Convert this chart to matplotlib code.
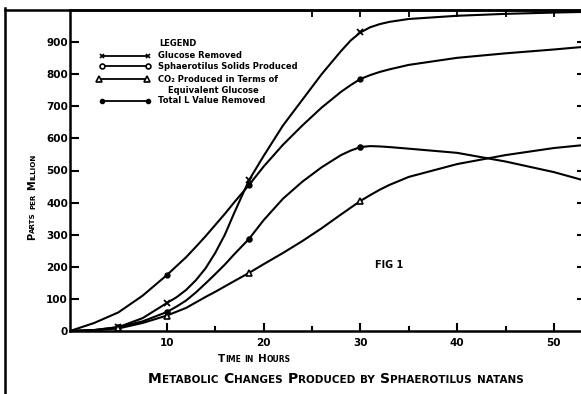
import matplotlib
matplotlib.use('Agg')
import matplotlib.pyplot as plt
from matplotlib.lines import Line2D

# ---------------- data ----------------
t_curve = [0, 2.5, 5, 7.5, 10, 11, 12, 13, 14, 15, 16, 17, 18.5, 20, 22, 24, 26, 28,
           29, 30, 31, 32, 33, 35, 40, 45, 50, 53]
glucose_curve = [0, 3, 12, 40, 87, 105, 128, 158, 195, 243, 300, 370, 470, 545, 640,
                 720, 800, 872, 905, 930, 946, 956, 963, 972, 982, 988, 992, 994]
lvalue_curve = [0, 25, 58, 110, 174, 202, 230, 262, 295, 330, 365, 402, 455, 512, 580,
                640, 696, 745, 766, 785, 797, 807, 815, 829, 851, 865, 877, 885]
solids_curve = [0, 3, 12, 30, 59, 76, 95, 120, 148, 177, 207, 240, 287, 345, 412,
                465, 510, 548, 562, 573, 576, 575, 573, 568, 555, 528, 495, 470]
co2_curve = [0, 2, 8, 25, 48, 60, 72, 89, 106, 122, 139, 156, 181, 208, 243,
             280, 320, 363, 384, 405, 423, 440, 455, 480, 520, 548, 570, 579]

t_obs = [5, 10, 18.5, 30]
glucose_obs = [12, 87, 470, 930]
solids_obs = [12, 59, 287, 573]
co2_obs = [8, 48, 181, 405]
t_obs_l = [10, 18.5, 30]
lvalue_obs = [174, 455, 785]

y_ticks = [0, 100, 200, 300, 400, 500, 600, 700, 800, 900]
x_major = [10, 20, 30, 40, 50]
x_minor = [5, 15, 25, 35, 45]
top_ticks = [25, 30, 35, 40, 45, 50]

legend_labels = ["Glucose Removed", "Sphaerotilus Solids Produced",
                 "CO\u2082 Produced in Terms of", "Equivalent Glucose",
                 "Total L Value Removed"]

# ---------------- figure ----------------
W, H = 581, 394
fig = plt.figure(figsize=(W / 100, H / 100), dpi=100)
fig.patch.set_facecolor('white')
renderer = fig.canvas.get_renderer()


def P(x, y):
    return (x / W, 1 - y / H)


ax = fig.add_axes([70 / W, (H - 331) / H, (W - 70) / W, (331 - 10) / H])
ax.set_xlim(0, 52.8)
ax.set_ylim(0, 1000)

lw = 1.5
ax.plot(t_curve, glucose_curve, color='black', lw=lw)
ax.plot(t_curve, lvalue_curve, color='black', lw=lw)
ax.plot(t_curve, solids_curve, color='black', lw=lw)
ax.plot(t_curve, co2_curve, color='black', lw=lw)

ax.plot(t_obs, glucose_obs, ls='none', marker='x', ms=4, mew=1.3, color='black')
ax.plot(t_obs, solids_obs, ls='none', marker='o', ms=3.5, mew=1.2, mfc='black', color='black')
ax.plot(t_obs, co2_obs, ls='none', marker='^', ms=4.5, mew=1.2, mfc='white', color='black')
ax.plot(t_obs_l, lvalue_obs, ls='none', marker='o', ms=3.5, mfc='black', color='black')

for s in ['left', 'bottom', 'top']:
    ax.spines[s].set_linewidth(1.8)
ax.spines['right'].set_visible(False)

ax.set_xticks(x_major)
ax.set_xticks(x_minor, minor=True)
ax.set_yticks(y_ticks)
ax.set_xticklabels([str(v) for v in x_major])
ax.set_yticklabels([str(v) for v in y_ticks])
ax.tick_params(axis='x', which='major', direction='in', length=6, width=1.5, pad=5,
               labelsize=7.5, top=False)
ax.tick_params(axis='x', which='minor', direction='in', length=3.5, width=1.5, top=False)
ax.tick_params(axis='y', which='major', direction='in', length=6.5, width=1.5, pad=1.5,
               labelsize=7.5, right=False)
for lab in ax.get_xticklabels() + ax.get_yticklabels():
    lab.set_fontweight('bold')

# right ticks
sec_y = ax.secondary_yaxis('right')
sec_y.set_yticks(y_ticks[1:])
sec_y.tick_params(direction='in', length=3, width=1.5, labelright=False)
sec_y.spines['right'].set_visible(False)

# top ticks
sec_x = ax.secondary_xaxis('top')
sec_x.set_xticks(top_ticks)
sec_x.tick_params(direction='in', length=5, width=1.3, labeltop=False)
sec_x.spines['top'].set_visible(False)

# outer frame lines
fig.add_artist(Line2D([5 / W, 5 / W], [1 - 8 / H, 0], transform=fig.transFigure,
                      color='black', lw=1.8))
fig.add_artist(Line2D([5 / W, 1], [1 - 10 / H, 1 - 10 / H], transform=fig.transFigure,
                      color='black', lw=1.8))


# ---------------- small caps text helper ----------------
def smallcaps(xc, yb, s, big, small, vertical=False):
    runs = []
    for ch in s:
        if ch == ' ':
            runs.append([' ', None])
            continue
        size = big if (ch.isupper() or ch.isdigit()) else small
        if runs and runs[-1][1] == size:
            runs[-1][0] += ch.upper()
        else:
            runs.append([ch.upper(), size])
    items = []
    for txt, size in runs:
        if size is None:
            items.append((None, small * 0.5 * 100 / 72))
            continue
        tx = fig.text(0, 0, txt, fontsize=size, fontweight='bold', va='baseline',
                      ha='left', rotation_mode='anchor', family='DejaVu Sans')
        w = tx.get_window_extent(renderer).width
        items.append((tx, w))
    total = sum(w for _, w in items)
    pos = (xc - total / 2) if not vertical else (xc + total / 2)
    for tx, w in items:
        if tx is not None:
            if vertical:
                tx.set_rotation(90)
                tx.set_position(P(yb, pos))
            else:
                tx.set_position(P(pos, yb))
        pos = pos + w if not vertical else pos - w


smallcaps(336, 383, "Metabolic Changes Produced by Sphaerotilus natans", 10, 7.45)
smallcaps(254, 362, "Time in Hours", 7.5, 5.5)
smallcaps(197, 35, "Parts per Million", 7, 5.1, vertical=True)

fig.text(*P(375, 268), "FIG 1", fontsize=7, fontweight='bold', va='baseline', ha='left')

# ---------------- legend ----------------
fig.text(*P(159, 46), "LEGEND", fontsize=6, fontweight='bold', va='baseline', ha='left')
leg_rows = [
    (55.7, 102, 148, dict(marker='x', ms=3.5, mew=1.2)),
    (66.0, 102, 148, dict(marker='o', ms=3.5, mew=1.2, mfc='white')),
    (79.0, 99, 147, dict(marker='^', ms=4.5, mew=1.2, mfc='white')),
    (100.7, 102, 148, dict(marker='o', ms=3, mfc='black')),
]
for (yy, x0, x1, mk) in leg_rows:
    fig.add_artist(Line2D([x0 / W, x1 / W], [1 - yy / H, 1 - yy / H], transform=fig.transFigure,
                          color='black', lw=1.3, **mk))
text_pos = [(158, 58.5), (158, 69), (158, 82), (168, 93), (158, 103)]
for (xx, yy), lab in zip(text_pos, legend_labels):
    fig.text(*P(xx, yy), lab, fontsize=6, fontweight='bold', va='baseline', ha='left')

fig.savefig('out.png', dpi=100, facecolor='white')
